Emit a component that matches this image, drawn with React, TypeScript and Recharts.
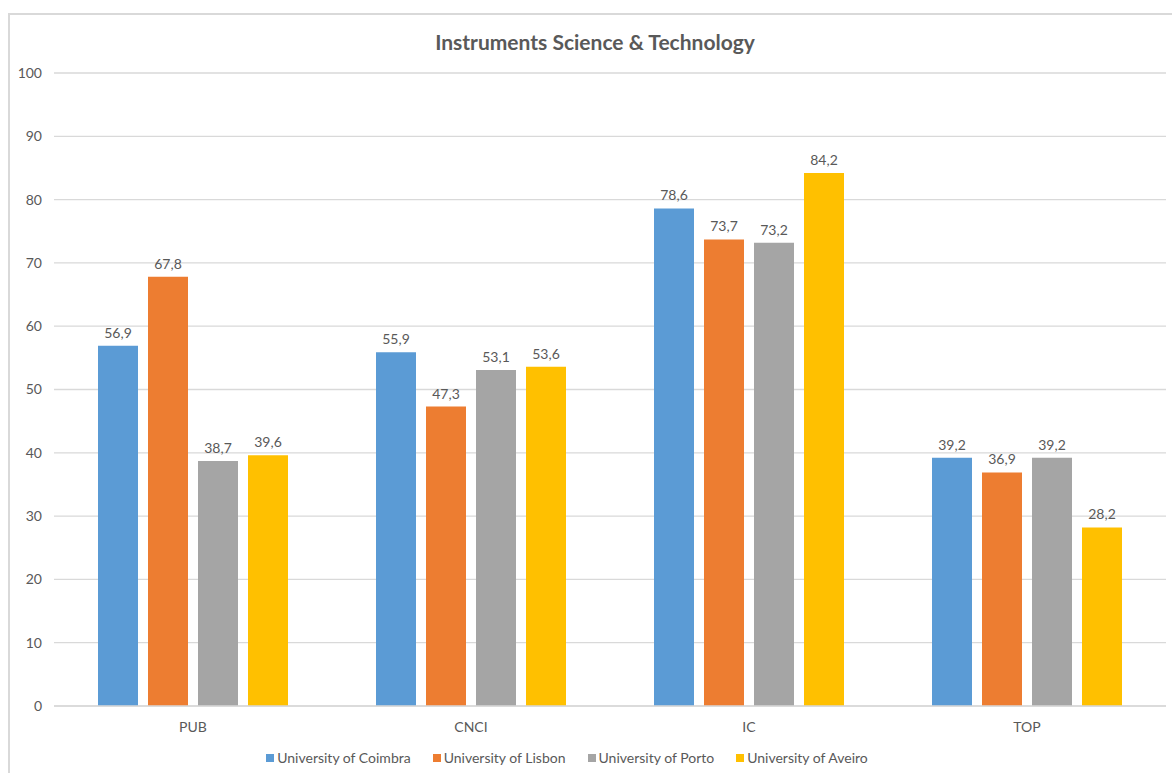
import React from 'react';
import { BarChart, Bar, XAxis, YAxis, CartesianGrid, LabelList, Legend } from 'recharts';

const categories = ['PUB', 'CNCI', 'IC', 'TOP'];
const coimbra = [56.9, 55.9, 78.6, 39.2];
const lisbon = [67.8, 47.3, 73.7, 36.9];
const porto = [38.7, 53.1, 73.2, 39.2];
const aveiro = [39.6, 53.6, 84.2, 28.2];
const yTicks = [0, 10, 20, 30, 40, 50, 60, 70, 80, 90, 100];
const title = 'Instruments Science & Technology';

const series = [
  { key: 'coimbra', name: 'University of Coimbra', color: '#5B9BD5' },
  { key: 'lisbon', name: 'University of Lisbon', color: '#ED7D31' },
  { key: 'porto', name: 'University of Porto', color: '#A5A5A5' },
  { key: 'aveiro', name: 'University of Aveiro', color: '#FFC000' },
];

const data = categories.map((c, i) => ({
  category: c,
  coimbra: coimbra[i],
  lisbon: lisbon[i],
  porto: porto[i],
  aveiro: aveiro[i],
}));

const FONT = 'Lato, "Open Sans", sans-serif';
const TEXT = '#595959';
const GRID = '#D9D9D9';

const fmt = (v: any) => String(v).replace('.', ',');

const LegendContent = () => (
  <div style={{ display: 'flex', justifyContent: 'center', width: 1134, paddingTop: 6, fontFamily: FONT, fontSize: 14, color: TEXT }}>
    {series.map((s, i) => (
      <div key={s.key} style={{ display: 'flex', alignItems: 'center', marginRight: i < series.length - 1 ? 22 : 0 }}>
        <span style={{ display: 'inline-block', width: 8, height: 8, background: s.color, marginRight: 3 }} />
        <span>{s.name}</span>
      </div>
    ))}
  </div>
);

export default function App() {
  return (
    <div style={{ position: 'absolute', left: 0, top: 0, width: 1172, height: 773, background: '#fff', overflow: 'hidden' }}>
      <div style={{ position: 'absolute', left: 8, top: 13, width: 1200, height: 800, borderLeft: `2px solid ${GRID}`, borderTop: `2px solid ${GRID}` }} />
      <div style={{ position: 'absolute', left: 0, width: 1190, top: 29, textAlign: 'center', fontFamily: FONT, fontWeight: 700, fontSize: 21, color: TEXT }}>
        {title}
      </div>
      <div style={{ position: 'absolute', left: 0, top: 0 }}>
        <BarChart width={1172} height={773} data={data} margin={{ top: 73, right: 6, bottom: 0, left: 0 }} barGap={10} barSize={40}>
          <CartesianGrid vertical={false} stroke={GRID} strokeWidth={1.3} />
          <XAxis dataKey="category" height={37} axisLine={{ stroke: GRID, strokeWidth: 1.3 }} tickLine={false} tickSize={0} tickMargin={16}
            tick={{ fill: TEXT, fontSize: 14, fontFamily: FONT }} />
          <YAxis width={54} domain={[0, 100]} ticks={yTicks} axisLine={false} tickLine={false} tickSize={0} tickMargin={12}
            tick={{ fill: TEXT, fontSize: 14, fontFamily: FONT }} interval={0} />
          <Legend verticalAlign="bottom" height={30} content={<LegendContent />} wrapperStyle={{ left: 0, width: 1134 }} />
          {series.map((s) => (
            <Bar key={s.key} dataKey={s.key} name={s.name} fill={s.color} isAnimationActive={false}>
              <LabelList dataKey={s.key} position="top" offset={8} formatter={fmt} style={{ fill: TEXT, fontSize: 14, fontFamily: FONT }} />
            </Bar>
          ))}
        </BarChart>
      </div>
    </div>
  );
}
